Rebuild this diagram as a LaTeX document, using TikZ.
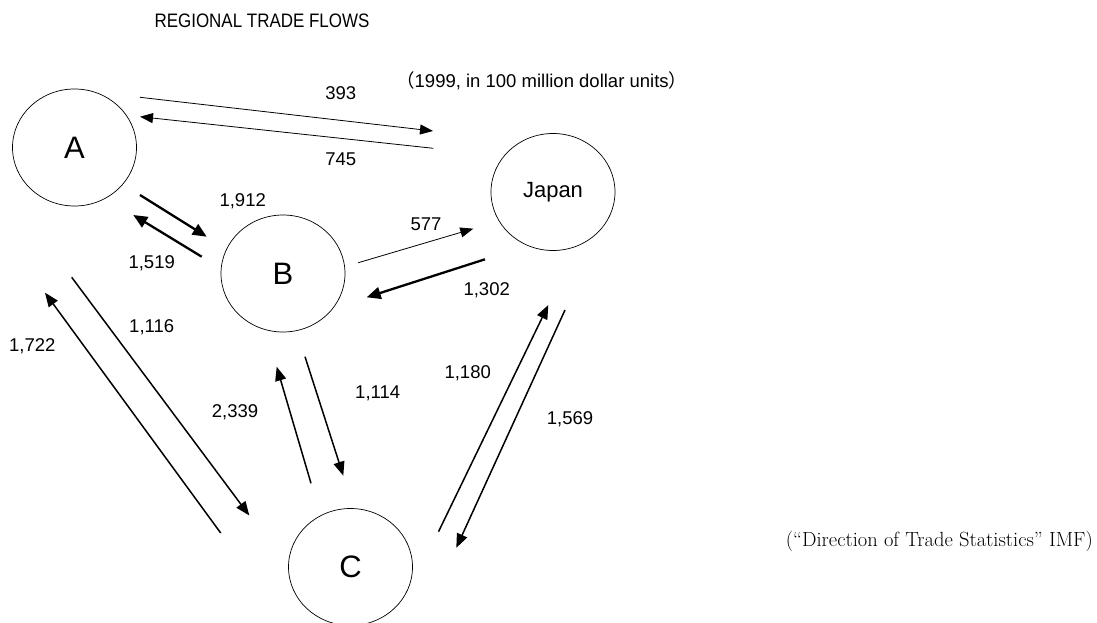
\documentclass[tikz,border=0pt]{standalone}
\usepackage{fontspec}
\setsansfont{Liberation Sans}
\newfontfamily\cjk{Noto Sans CJK JP}
\usetikzlibrary{shapes.geometric,arrows.meta}
\begin{document}
\begin{tikzpicture}[x=1pt,y=-1pt,
  region/.style={ellipse,draw,line width=0.7pt,minimum width=124pt,minimum height=117pt,inner sep=0pt,font=\sffamily\fontsize{31}{31}\selectfont},
  flowthin/.style={line width=0.8pt,-{Triangle[length=13pt,width=10pt]}},
  flowmid/.style={line width=1.5pt,-{Triangle[length=14pt,width=11pt]}},
  flowthick/.style={line width=2.3pt,-{Triangle[length=14pt,width=12pt]}},
  val/.style={font=\sffamily\fontsize{18.5}{18.5}\selectfont,inner sep=0pt}]
\useasboundingbox (0,0) rectangle (1097,623);
% regions
\node[region] (A) at (74.5,147.5) {A};
\node[region] (B) at (283,273.5) {B};
\node[region,font=\sffamily\fontsize{22}{22}\selectfont] (J) at (553,192) {Japan};
\node[region] (C) at (350.5,567) {C};
% titles
\node[font=\sffamily\fontsize{19.5}{19.5}\selectfont,inner sep=0pt] (title) at (262,21) {\scalebox{0.87}[1]{REGIONAL TRADE FLOWS}};
\node[font=\sffamily\fontsize{18.5}{18.5}\selectfont,inner sep=0pt,anchor=west] (sub) at (396,81) {{\cjk （}1999, in 100 million dollar units{\cjk ）}};
\node[font=\fontsize{20.5}{20.5}\selectfont,inner sep=0pt,anchor=east] (src) at (1093,541) {(“Direction of Trade Statistics” IMF)};
% end points
\coordinate (s393) at (140,97.3);   \coordinate (e393) at (433,131);
\coordinate (s745) at (433.3,148.3); \coordinate (e745) at (140,116.7);
\coordinate (s1912) at (140,195);   \coordinate (e1912) at (206.7,236.7);
\coordinate (s1519) at (201.7,256.7); \coordinate (e1519) at (133.3,215);
\coordinate (s577) at (358.3,262.7); \coordinate (e577) at (473.3,228.7);
\coordinate (s1302) at (485,259.3); \coordinate (e1302) at (366.7,297.3);
\coordinate (s1116) at (71.7,277.3); \coordinate (e1116) at (249.3,515.5);
\coordinate (s1722) at (220.7,533); \coordinate (e1722) at (45,292.7);
\coordinate (s2339) at (311,483.3); \coordinate (e2339) at (276.7,366.7);
\coordinate (s1114) at (305,356.7); \coordinate (e1114) at (343.3,475.7);
\coordinate (s1180) at (438.5,531.7); \coordinate (e1180) at (548.3,305);
\coordinate (s1569) at (565,310);   \coordinate (e1569) at (456.3,547.8);
% flows
\draw[flowthin] (s393) -- (e393);
\draw[flowthin] (s745) -- (e745);
\draw[flowthick] (s1912) -- (e1912);
\draw[flowthick] (s1519) -- (e1519);
\draw[flowthin] (s577) -- (e577);
\draw[flowthick] (s1302) -- (e1302);
\draw[flowmid] (s1116) -- (e1116);
\draw[flowmid] (s1722) -- (e1722);
\draw[flowmid] (s2339) -- (e2339);
\draw[flowmid] (s1114) -- (e1114);
\draw[flowmid] (s1180) -- (e1180);
\draw[flowmid] (s1569) -- (e1569);
% values
\node[val] (v393) at (340.7,93.3) {393};
\node[val] (v745) at (340.7,159.3) {745};
\node[val] (v1912) at (242.7,201.7) {1,912};
\node[val] (v1519) at (151.7,263.3) {1,519};
\node[val] (v577) at (426,224) {577};
\node[val] (v1302) at (486.7,290) {1,302};
\node[val] (v1116) at (151.7,327.3) {1,116};
\node[val] (v1722) at (32.3,346.7) {1,722};
\node[val] (v2339) at (235,412.7) {2,339};
\node[val] (v1114) at (377.7,393.3) {1,114};
\node[val] (v1180) at (467.7,373.3) {1,180};
\node[val] (v1569) at (570,419.3) {1,569};
\end{tikzpicture}
\end{document}
